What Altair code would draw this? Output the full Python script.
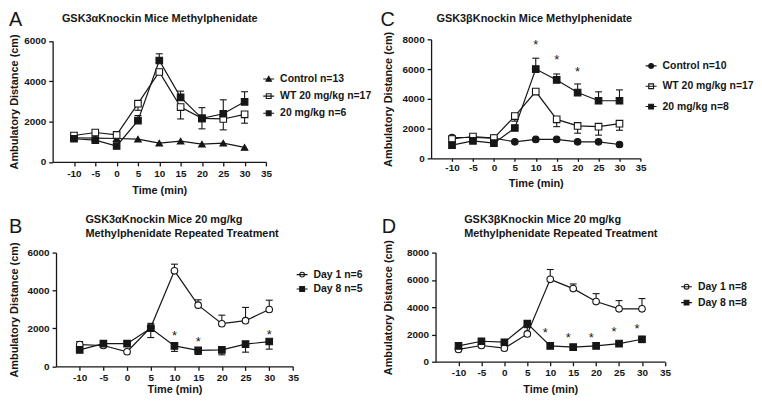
import altair as alt
import pandas as pd

INK = "#161616"
FONT = "Liberation Sans"

TIME = [-10, -5, 0, 5, 10, 15, 20, 25, 30]
X_TICKS = [-10, -5, 0, 5, 10, 15, 20, 25, 30, 35]
Y_TITLE = "Ambulatory Distance (cm)"
X_TITLE = "Time (min)"

# ---------------- Panel A ----------------
A_LETTER = "A"
A_TITLE = "GSK3αKnockin Mice Methylphenidate"
A_SERIES = ["Control n=13", "WT 20 mg/kg n=17", "20 mg/kg n=6"]
A_CONTROL = [1200, 1180, 1160, 1130, 930, 1030, 885, 930, 720]
A_WT = [1310, 1460, 1340, 2890, 4460, 2720, 2160, 2130, 2360]
A_KI = [1150, 1080, 790, 2050, 5030, 3200, 2160, 2390, 2980]
A_CONTROL_ERR = [0, 0, 0, 0, 0, 0, 0, 0, 0]
A_WT_ERR = [0, 0, 0, 330, 0, 590, 520, 540, 440]
A_KI_ERR = [0, 0, 0, 250, 330, 310, 530, 690, 500]
A_ERR_DIR = ["up", "down", "up"]
A_Y_TICKS = [0, 2000, 4000, 6000]
A_STAR_TIME = []
A_STAR_Y = []

# ---------------- Panel C ----------------
C_LETTER = "C"
C_TITLE = "GSK3βKnockin Mice Methylphenidate"
C_SERIES = ["Control n=10", "WT 20 mg/kg n=17", "20 mg/kg n=8"]
C_CONTROL = [1400, 1400, 1360, 1110, 1270, 1270, 1110, 1110, 930]
C_WT = [1300, 1470, 1360, 2840, 4490, 2620, 2180, 2130, 2330]
C_KI = [890, 1180, 1020, 2040, 6000, 5270, 4420, 3870, 3870]
C_CONTROL_ERR = [0, 0, 0, 0, 0, 0, 0, 0, 0]
C_WT_ERR = [0, 0, 0, 340, 0, 490, 490, 570, 440]
C_KI_ERR = [0, 0, 0, 0, 730, 400, 580, 600, 730]
C_ERR_DIR = ["up", "down", "up"]
C_Y_TICKS = [0, 2000, 4000, 6000, 8000]
C_STAR_TIME = [10, 15, 20]
C_STAR_Y = [7840, 6780, 6020]

# ---------------- Panel B ----------------
B_LETTER = "B"
B_TITLE = ["GSK3αKnockin Mice 20 mg/kg", "Methylphenidate Repeated Treatment"]
B_SERIES = ["Day 1 n=6", "Day 8 n=5"]
B_DAY1 = [1150, 1100, 770, 2060, 5040, 3230, 2250, 2410, 3000]
B_DAY8 = [870, 1200, 1200, 2010, 1080, 840, 870, 1170, 1310]
B_DAY1_ERR = [160, 0, 0, 210, 350, 280, 450, 700, 490]
B_DAY8_ERR = [0, 0, 0, 490, 290, 210, 260, 420, 400]
B_ERR_DIR = ["up", "down"]
B_Y_TICKS = [0, 2000, 4000, 6000]
B_STAR_TIME = [10, 15, 30]
B_STAR_Y = [1760, 1450, 1800]

# ---------------- Panel D ----------------
D_LETTER = "D"
D_TITLE = ["GSK3βKnockin Mice 20 mg/kg", "Methylphenidate Repeated Treatment"]
D_SERIES = ["Day 1 n=8", "Day 8 n=8"]
D_DAY1 = [900, 1190, 990, 2040, 6040, 5360, 4410, 3880, 3880]
D_DAY8 = [1160, 1500, 1430, 2790, 1160, 1070, 1160, 1330, 1650]
D_DAY1_ERR = [0, 0, 0, 460, 720, 340, 580, 600, 750]
D_DAY8_ERR = [0, 0, 0, 0, 0, 0, 0, 0, 250]
D_ERR_DIR = ["up", "down"]
D_Y_TICKS = [0, 2000, 4000, 6000, 8000]
D_STAR_TIME = [10, 15, 20, 25, 30]
D_STAR_Y = [2330, 1990, 1990, 2420, 2590]

# legend glyphs (short line through the marker)
TRI_LEG = "M-1,0H1M0,-0.5L0.5,0.4L-0.5,0.4Z"
SQ_LEG = "M-1,0H1M-0.44,-0.44H0.44V0.44H-0.44Z"
CIR_LEG = "M-1,0H1M0.44,0A0.44,0.44,0,1,1,-0.44,0A0.44,0.44,0,1,1,0.44,0Z"


def long_table(series, values, errs, dirs):
    rows = []
    for name, vals, err, d in zip(series, values, errs, dirs):
        sign = 1 if d == "up" else -1
        for t, v, e in zip(TIME, vals, err):
            rows.append(dict(time=t, value=v, series=name, err=e, end=v + sign * e))
    return pd.DataFrame(rows)


def panel(df, series, shapes, fills, leg_shapes, y_ticks, star_t, star_y, G):
    xs = alt.Scale(domain=[-15, 35], range=G["xr"], nice=False, zero=False)
    ys = alt.Scale(domain=[0, y_ticks[-1]], range=G["yr"], nice=False, zero=False)
    x_axis = alt.Axis(values=X_TICKS, title=X_TITLE, labelExpr="'' + datum.value",
                      tickSize=G["xtick"], labelPadding=G["xlabpad"],
                      titleBaseline="alphabetic", titleY=G["xtitle_y"],
                      labelFlush=False, labelOverlap=False)
    y_axis = alt.Axis(values=y_ticks, title=Y_TITLE, labelExpr="'' + datum.value",
                      tickSize=4, labelPadding=3, offset=G["yoff"], titleAngle=270,
                      titleBaseline="bottom", titleAlign="center",
                      titleX=G["ytitle_x"], titleY=G["ytitle_y"],
                      labelFlush=False, labelOverlap=False)

    def X(f="time:Q"):
        return alt.X(f, scale=xs, axis=x_axis)

    def Y(f="value:Q"):
        return alt.Y(f, scale=ys, axis=y_axis)

    base = alt.Chart(df)
    lines = base.mark_line(color=INK, strokeWidth=1.2).encode(x=X(), y=Y(), detail="series:N")
    bars = base.transform_filter("datum.err > 0")
    stems = bars.mark_rule(color=INK, strokeWidth=1.1).encode(x=X(), y=Y(), y2="end:Q")
    caps = bars.mark_rule(color=INK, strokeWidth=1.1, xOffset=-3.5, x2Offset=3.5).encode(
        x=X(), x2="time:Q", y=Y("end:Q"))
    points = base.mark_point(opacity=1, size=44, stroke=INK, strokeWidth=1.1).encode(
        x=X(), y=Y(),
        shape=alt.Shape("series:N", scale=alt.Scale(domain=series, range=shapes), legend=None),
        fill=alt.Fill("series:N", scale=alt.Scale(domain=series, range=fills), legend=None))
    leg = alt.Legend(orient="none", legendX=G["legx"], legendY=G["legy"], title=None,
                     symbolSize=121, symbolStrokeWidth=1.1, symbolOpacity=1,
                     labelFont=FONT, labelFontSize=10.5, labelFontWeight="bold",
                     labelColor=INK, labelOffset=5, rowPadding=G["rowpad"], padding=0)
    carrier = base.mark_point(stroke=INK, strokeWidth=1.1, size=121).encode(
        x=X(), y=Y(),
        shape=alt.Shape("series:N", scale=alt.Scale(domain=series, range=leg_shapes), legend=leg),
        fill=alt.Fill("series:N", scale=alt.Scale(domain=series, range=fills), legend=leg),
        opacity=alt.value(0))

    one = alt.Data(values=[{}])
    title = alt.Chart(one).mark_text(
        text=G["title"], font=FONT, fontSize=11, fontWeight="bold", color=INK,
        align=G["talign"], baseline="alphabetic", lineHeight=14.5).encode(
        x=alt.value(G["tx"]), y=alt.value(G["ty"]))
    letter = alt.Chart(one).mark_text(
        text=G["letter"], font=FONT, fontSize=20, color=INK, align="left",
        baseline="alphabetic").encode(x=alt.value(G["lx"]), y=alt.value(G["ly"]))

    layers = [lines, stems, caps, points, carrier]
    if star_t:
        sdf = pd.DataFrame({"time": star_t, "value": star_y})
        stars = alt.Chart(sdf).mark_text(text="*", font=FONT, fontSize=13, color=INK,
                                          baseline="alphabetic", dy=7, dx=G["sdx"]).encode(
            x=X(), y=Y())
        layers.append(stars)
    layers += [title, letter]
    return alt.layer(*layers).resolve_scale(shape="independent", fill="independent").properties(
        width=G["W"], height=G["H"])


dfA = long_table(A_SERIES, [A_CONTROL, A_WT, A_KI], [A_CONTROL_ERR, A_WT_ERR, A_KI_ERR], A_ERR_DIR)
dfC = long_table(C_SERIES, [C_CONTROL, C_WT, C_KI], [C_CONTROL_ERR, C_WT_ERR, C_KI_ERR], C_ERR_DIR)
dfB = long_table(B_SERIES, [B_DAY1, B_DAY8], [B_DAY1_ERR, B_DAY8_ERR], B_ERR_DIR)
dfD = long_table(D_SERIES, [D_DAY1, D_DAY8], [D_DAY1_ERR, D_DAY8_ERR], D_ERR_DIR)

GA = dict(W=215, H=123.6, xr=[0, 215], yr=[123.6, 1.6], yoff=0, ytitle_x=-33, ytitle_y=62.6,
          xtick=4, xlabpad=3, xtitle_y=31.7, legx=211.3, legy=33.5, rowpad=5.3,
          title=A_TITLE, talign="center", tx=108, ty=-17.2, letter=A_LETTER, lx=-44, ly=-13.7, sdx=0)
GC = dict(W=211, H=120, xr=[0, 211], yr=[120, 0], yoff=0, ytitle_x=-37.7, ytitle_y=60,
          xtick=3, xlabpad=1.5, xtitle_y=28, legx=215.3, legy=20.3, rowpad=8.5,
          title=C_TITLE, talign="center", tx=104, ty=-17.2, letter=C_LETTER, lx=-51, ly=-13.7, sdx=0)
GB = dict(W=242.2, H=114.7, xr=[3.4, 242.2], yr=[114.7, 0], yoff=-3.4, ytitle_x=-36.4, ytitle_y=57.35,
          xtick=4, xlabpad=2.5, xtitle_y=26.5, legx=245, legy=15.7, rowpad=2.5,
          title=B_TITLE, talign="left", tx=33, ty=-30.3, letter=B_LETTER, lx=-44, ly=-19.3, sdx=0)
GD = dict(W=235.7, H=110, xr=[4.5, 235.7], yr=[110, 0], yoff=-4.5, ytitle_x=-42.2, ytitle_y=55,
          xtick=4, xlabpad=2, xtitle_y=30.7, legx=251, legy=27.9, rowpad=4,
          title=D_TITLE, talign="left", tx=33.3, ty=-30.3, letter=D_LETTER, lx=-49.7, ly=-19.3, sdx=-5)

pA = panel(dfA, A_SERIES, ["triangle-up", "square", "square"], [INK, "white", INK],
           [TRI_LEG, SQ_LEG, SQ_LEG], A_Y_TICKS, A_STAR_TIME, A_STAR_Y, GA)
pC = panel(dfC, C_SERIES, ["circle", "square", "square"], [INK, "white", INK],
           [CIR_LEG, SQ_LEG, SQ_LEG], C_Y_TICKS, C_STAR_TIME, C_STAR_Y, GC)
pB = panel(dfB, B_SERIES, ["circle", "square"], ["white", INK],
           [CIR_LEG, SQ_LEG], B_Y_TICKS, B_STAR_TIME, B_STAR_Y, GB)
pD = panel(dfD, D_SERIES, ["circle", "square"], ["white", INK],
           [CIR_LEG, SQ_LEG], D_Y_TICKS, D_STAR_TIME, D_STAR_Y, GD)

chart = alt.concat(
    pA, pC, pB, pD, columns=2, bounds="flush",
    spacing=alt.RowColnumber(row=91, column=138.5)
).resolve_scale(
    shape="independent", fill="independent"
).properties(padding=0, background="white").configure_view(stroke=None).configure_axis(
    domainColor=INK, domainWidth=1.3, tickColor=INK, tickWidth=1.3,
    labelFont=FONT, labelFontSize=10, labelFontWeight="bold", labelColor=INK,
    titleFont=FONT, titleFontSize=11, titleFontWeight="bold", titleColor=INK, grid=False
)

chart.save("out.html", embed_options={"renderer": "svg", "actions": False})
